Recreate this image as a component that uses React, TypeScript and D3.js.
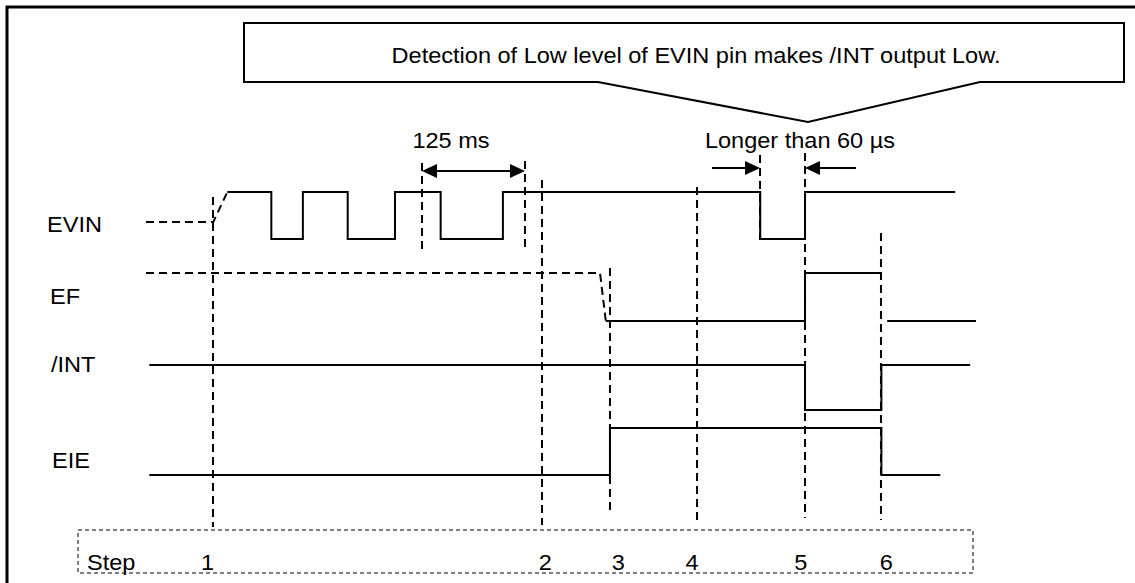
import * as d3 from "d3";

// time axis in arbitrary units (0..100 across the trace area)
const evinUnknown: [number, number][] = [[0, 0.36], [8.1, 0.36], [9.8, 1]];
const evinEdges: [number, number][] = [
  [9.8, 1], [15.1, 0], [18.9, 1], [24.3, 0], [30.0, 1], [35.5, 0], [43.0, 1], [74.0, 0], [79.4, 1], [97.5, 1],
];
const efUnknown: [number, number][] = [[0, 1], [54.7, 1], [55.4, 0]];
const efEdges: [number, number][] = [[55.4, 0], [79.4, 1], [88.6, 1]];
const efAfter: [number, number][] = [[89.3, 0], [100, 0]];
const intEdges: [number, number][] = [[0.4, 1], [79.4, 0], [88.6, 1], [99.3, 1]];
const eieEdges: [number, number][] = [[0.4, 0], [55.9, 1], [88.6, 0], [95.7, 0]];

const signalNames = ["EVIN", "EF", "/INT", "EIE"];
const stepLabels = ["1", "2", "3", "4", "5", "6"];
const stepLabelT = [7.4, 48.1, 56.9, 65.8, 78.9, 89.2];

// dashed guide lines: time + vertical extent
const guideT = [8.07, 33.25, 45.66, 47.71, 55.9, 66.39, 73.98, 79.4, 88.55];
const guideTop = [197, 163, 161, 180, 268, 187, 155, 153, 233];
const guideBottom = [527, 253, 252, 525, 513, 520, 240, 518, 520];

const periodT: [number, number] = [33.25, 45.66];
const pulseT: [number, number] = [73.98, 79.4];

const calloutText = "Detection of Low level of EVIN pin makes /INT output Low.";

// layout
const W = 1135;
const H = 583;
const FONT = "'Liberation Sans', Arial, sans-serif";
const STRETCH = 1.07; // source text is a little wide
const rows = [
  { hi: 192, lo: 239, labelX: 47, labelY: 232 },
  { hi: 273, lo: 321, labelX: 50, labelY: 304 },
  { hi: 365, lo: 410, labelX: 51, labelY: 372 },
  { hi: 428, lo: 475, labelX: 52, labelY: 468 },
];

const x = d3.scaleLinear().domain([0, 100]).range([146, 976]);
const yRow = (i: number) => d3.scaleLinear().domain([0, 1]).range([rows[i].lo, rows[i].hi]);

const stepLine = (i: number) =>
  d3.line<[number, number]>().x(d => x(d[0])).y(d => yRow(i)(d[1])).curve(d3.curveStepAfter);
const straightLine = (i: number) =>
  d3.line<[number, number]>().x(d => x(d[0])).y(d => yRow(i)(d[1]));

const DASH = "8,5";

function Label({ x, y, anchor = "start", children }: { x: number; y: number; anchor?: string; children: any }) {
  return (
    <text transform={`translate(${x},${y}) scale(${STRETCH},1)`} textAnchor={anchor} fontFamily={FONT} fontSize={22}>
      {children}
    </text>
  );
}

function ArrowHead({ tipX, y, dir }: { tipX: number; y: number; dir: number }) {
  const len = 15;
  const hw = 7;
  const bx = tipX - dir * len;
  return <polygon points={`${tipX},${y} ${bx},${y - hw} ${bx},${y + hw}`} fill="#000" />;
}

export default function App() {
  const solid = { fill: "none", stroke: "#000", strokeWidth: 2 };
  const dashed = { fill: "none", stroke: "#000", strokeWidth: 2, strokeDasharray: DASH };

  const cx0 = 244, cx1 = 1124, cy0 = 23, cy1 = 82;
  const callout = `M598,${cy1} H${cx0} V${cy0} H${cx1} V${cy1} H980 L808,122 Z`;

  const arrowY1 = 171;
  const arrowY2 = 168;

  return (
    <svg width={W} height={H} style={{ position: "absolute", left: 0, top: 0, background: "#fff" }}>
      <rect x={0} y={0} width={W} height={H} fill="#fff" />
      {/* outer frame */}
      <rect x={7} y={7} width={W + 20} height={H + 20} fill="none" stroke="#000" strokeWidth={3} />

      {/* callout */}
      <path d={callout} fill="#fff" stroke="#000" strokeWidth={2} strokeLinejoin="miter" />
      <Label x={696} y={63} anchor="middle">{calloutText}</Label>

      {/* guides */}
      {guideT.map((t, i) => (
        <line key={i} x1={x(t)} x2={x(t)} y1={guideTop[i]} y2={guideBottom[i]} {...dashed} />
      ))}

      {/* signal labels */}
      {signalNames.map((n, i) => (
        <Label key={n} x={rows[i].labelX} y={rows[i].labelY}>{n}</Label>
      ))}

      {/* EVIN */}
      <path d={straightLine(0)(evinUnknown) || ""} {...dashed} />
      <path d={stepLine(0)(evinEdges) || ""} {...solid} />
      {/* EF */}
      <path d={straightLine(1)(efUnknown) || ""} {...dashed} />
      <path d={stepLine(1)(efEdges) || ""} {...solid} />
      <path d={stepLine(1)(efAfter) || ""} {...solid} />
      {/* /INT */}
      <path d={stepLine(2)(intEdges) || ""} {...solid} />
      {/* EIE */}
      <path d={stepLine(3)(eieEdges) || ""} {...solid} />

      {/* 125 ms */}
      <Label x={451} y={148} anchor="middle">125 ms</Label>
      <line x1={x(periodT[0]) + 10} x2={x(periodT[1]) - 10} y1={arrowY1} y2={arrowY1} stroke="#000" strokeWidth={2} />
      <ArrowHead tipX={x(periodT[0])} y={arrowY1} dir={-1} />
      <ArrowHead tipX={x(periodT[1])} y={arrowY1} dir={1} />

      {/* Longer than 60 us */}
      <Label x={800} y={148} anchor="middle">Longer than 60 µs</Label>
      <line x1={712} x2={x(pulseT[0]) - 8} y1={arrowY2} y2={arrowY2} stroke="#000" strokeWidth={2} />
      <ArrowHead tipX={x(pulseT[0])} y={arrowY2} dir={1} />
      <line x1={856} x2={x(pulseT[1]) + 8} y1={arrowY2} y2={arrowY2} stroke="#000" strokeWidth={2} />
      <ArrowHead tipX={x(pulseT[1])} y={arrowY2} dir={-1} />

      {/* step box */}
      <rect x={78} y={530} width={895} height={43} fill="none" stroke="#555" strokeWidth={1.5} strokeDasharray="4,3" />
      <Label x={87} y={570}>Step</Label>
      {stepLabels.map((s, i) => (
        <Label key={s} x={x(stepLabelT[i])} y={570} anchor="middle">{s}</Label>
      ))}
    </svg>
  );
}
